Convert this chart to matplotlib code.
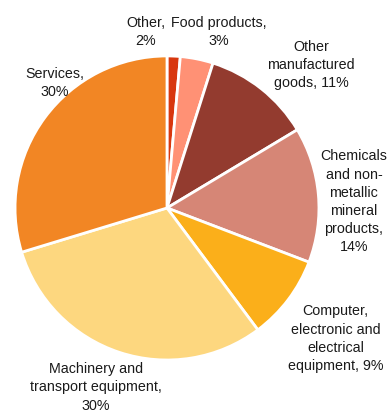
import matplotlib.pyplot as plt

labels = ["Other,\n2%", "Food products,\n3%", "Other\nmanufactured\ngoods, 11%",
          "Chemicals\nand non-\nmetallic\nmineral\nproducts,\n14%",
          "Computer,\nelectronic and\nelectrical\nequipment, 9%",
          "Machinery and\ntransport equipment,\n30%", "Services,\n30%"]
values = [1.4, 3.5, 11.5, 14.4, 9.0, 30.5, 29.7]
colors = ["#D8370E", "#FF9175", "#933B2F", "#D68676", "#FBAF1A", "#FDD77F", "#F28624"]
# label positions (pie radius = 1)
label_x = [-0.14, 0.34, 0.95, 1.23, 1.11, -0.47, -0.74]
label_y = [1.16, 1.16, 0.94, 0.04, -0.86, -1.18, 0.82]

plt.rcParams['font.family'] = ['Liberation Sans', 'DejaVu Sans']

fig = plt.figure(figsize=(3.89, 4.12), dpi=100)
ax = fig.add_axes([0, 0, 1, 1])
ax.pie(values, colors=colors, startangle=90, counterclock=False,
       wedgeprops=dict(edgecolor="white", linewidth=2))
for lab, x, y in zip(labels, label_x, label_y):
    ax.text(x, y, lab, ha="center", va="center", fontsize=10.3,
            color="#1a1a1a", linespacing=1.38)
ax.set_aspect("auto")
ax.set_xlim(-1.099, 1.461)
ax.set_ylim(-1.342, 1.368)
ax.axis("off")
fig.savefig("out.png", dpi=100)
